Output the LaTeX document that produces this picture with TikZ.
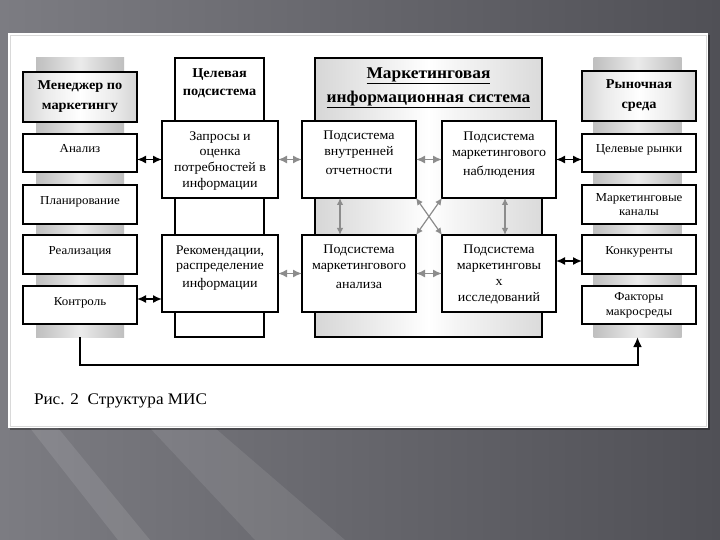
\documentclass[tikz,border=0pt]{standalone}
\usepackage{fontspec}
\setmainfont{Liberation Serif}[FakeStretch=1.06]
\usetikzlibrary{arrows.meta}
\definecolor{bgL}{RGB}{124,124,130}
\definecolor{bgR}{RGB}{80,80,86}
\definecolor{arrG}{RGB}{140,140,140}
\pgfdeclarehorizontalshading{barsh}{100bp}{color(0bp)=(black!40); color(30bp)=(black!22); color(50bp)=(black!8); color(70bp)=(black!22); color(100bp)=(black!40)}
\pgfdeclarehorizontalshading{missh}{100bp}{color(0bp)=(black!35); color(25bp)=(black!16); color(44bp)=(black!4); color(50bp)=(white); color(56bp)=(black!4); color(78bp)=(black!16); color(100bp)=(black!42)}
\pgfdeclarehorizontalshading{headsh}{100bp}{color(0bp)=(black!38); color(35bp)=(black!8); color(50bp)=(white); color(65bp)=(black!8); color(100bp)=(black!38)}
\newcommand{\uptext}[2]{\raisebox{#1}[0pt][0pt]{\begin{tabular}{@{}c@{}}#2\end{tabular}}}
\tikzset{
  every node/.style={inner sep=0pt, outer sep=0pt},
  wbox/.style={draw=black, line width=1.1pt, fill=white, align=center},
  smallbox/.style={wbox, minimum width=114pt, minimum height=38pt, font=\fontsize{12.2}{13.5}\selectfont},
  onebox/.style={smallbox, text height=8pt, text depth=8pt},
  bigbox/.style={wbox, minimum width=116pt, minimum height=77pt, font=\fontsize{13.2}{15.6}\selectfont},
  subbox/.style={wbox, minimum width=114pt, minimum height=77pt, font=\fontsize{13.2}{16}\selectfont},
  headbox/.style={draw=black, line width=1.1pt, shade, shading=headsh, align=center, minimum width=114pt, minimum height=50pt, font=\bfseries\fontsize{13.5}{20}\selectfont},
  barcol/.style={shade, shading=barsh, minimum width=88pt, minimum height=279pt},
  dblk/.style={{Latex[length=9pt,width=8pt]}-{Latex[length=9pt,width=8pt]}, line width=1.6pt, draw=black},
  dgry/.style={dblk, draw=arrG},
  vgry/.style={{Latex[length=7pt,width=6.5pt]}-{Latex[length=7pt,width=6.5pt]}, line width=1.2pt, draw=arrG},
  fback/.style={line width=2pt, -{Latex[length=10pt,width=9pt]}},
}
\begin{document}
\begin{tikzpicture}[x=1pt,y=-1pt]
\useasboundingbox (0,0) rectangle (720,540);
% background
\shade[left color=bgL, right color=bgR] (0,0) rectangle (720,540);
\fill[white, opacity=0.10] (30,428) -- (58,428) -- (150,540) -- (118,540) -- cycle;
\fill[white, opacity=0.09] (150,428) -- (215,428) -- (345,540) -- (255,540) -- cycle;
\fill[black, opacity=0.35] (10,35) rectangle (710,430);
\fill[white] (8,33) rectangle (708,428);
\draw[black!15, line width=0.6pt] (10,35) rectangle (706,426);

% columns
\node[barcol] (lbar) at (80,197.5) {};
\node[barcol] (rbar) at (637.5,197.5) {};
\node[draw=black, line width=1.1pt, fill=white, minimum width=89pt, minimum height=279pt] (tcol) at (219.5,197.5) {};
\node[draw=black, line width=1.1pt, shade, shading=missh, minimum width=227pt, minimum height=279pt] (mis) at (428.5,197.5) {};

% left column
\node[headbox] (mgr) at (80,97) {Менеджер по\\маркетингу};
\node[onebox] (anal) at (80,153) {Анализ};
\node[onebox, minimum height=39pt] (plan) at (80,204.5) {Планирование};
\node[onebox, minimum height=39pt] (real) at (80,254.5) {Реализация};
\node[onebox] (kontr) at (80,305) {Контроль};

% target subsystem
\node[align=center, font=\bfseries\fontsize{13.5}{18}\selectfont] (thead) at (219.5,83.5) {Целевая\\подсистема};
\node[bigbox] (zap) at (220,159.5) {\uptext{-4pt}{Запросы и\\оценка\\потребностей в\\информации}};
\node[bigbox] (rec) at (220,273.5) {\uptext{3pt}{Рекомендации,\\распределение\\[2pt]информации}};

% MIS
\node[align=center, font=\bfseries\fontsize{16.4}{24}\selectfont] (mtitle) at (428.5,87.5) {\underline{Маркетинговая}\\\underline{информационная система}};
\node[subbox] (in1) at (359,159.5) {\uptext{3pt}{Подсистема\\внутренней\\[3pt]отчетности}};
\node[subbox] (in2) at (499,159.5) {\uptext{2pt}{Подсистема\\маркетингового\\[3pt]наблюдения}};
\node[subbox] (in3) at (359,273.5) {\uptext{3pt}{Подсистема\\маркетингового\\[3pt]анализа}};
\node[subbox] (in4) at (499,273.5) {\uptext{-3.5pt}{Подсистема\\маркетинговы\\х\\исследований}};

% right column
\node[headbox] (mkt) at (639,96) {Рыночная\\среда};
\node[onebox] (celr) at (639,153) {Целевые рынки};
\node[smallbox, minimum height=39pt, font=\fontsize{12.2}{14}\selectfont] (kan) at (639,204.5) {Маркетинговые\\каналы};
\node[onebox, minimum height=39pt] (konk) at (639,254.5) {Конкуренты};
\node[smallbox, font=\fontsize{12.2}{15}\selectfont] (fakt) at (639,305) {Факторы\\макросреды};

% arrows
\draw[dblk] (anal.east |- zap.west) -- (zap.west);
\draw[dblk] ([yshift=6pt]kontr.east) coordinate (k1) -- (k1 -| rec.west);
\draw[dgry] (zap.east) -- (in1.west);
\draw[dgry] (rec.east) -- (in3.west);
\draw[dgry] (in1.east) -- (in2.west);
\draw[dgry] (in3.east) -- (in4.west);
\draw[dblk] (in2.east) -- (in2.east -| celr.west);
\draw[dblk] ([yshift=-6.5pt]konk.west) coordinate (k2) -- (k2 -| in4.east);
\draw[vgry] ([xshift=-19pt]in1.south) -- ([xshift=-19pt]in3.north);
\draw[vgry] ([xshift=6pt]in2.south) -- ([xshift=6pt]in4.north);
\draw[vgry] (in1.south east) -- (in4.north west);
\draw[vgry] (in2.south west) -- (in3.north east);

% feedback
\coordinate (fb) at (80,365);
\draw[fback] (lbar.south) -- (fb) -| (rbar.south);

% caption
\node[anchor=west, font=\fontsize{16.2}{18}\selectfont] (cap) at (34,401) {Рис. 2\ \ Структура МИС};
\end{tikzpicture}
\end{document}
